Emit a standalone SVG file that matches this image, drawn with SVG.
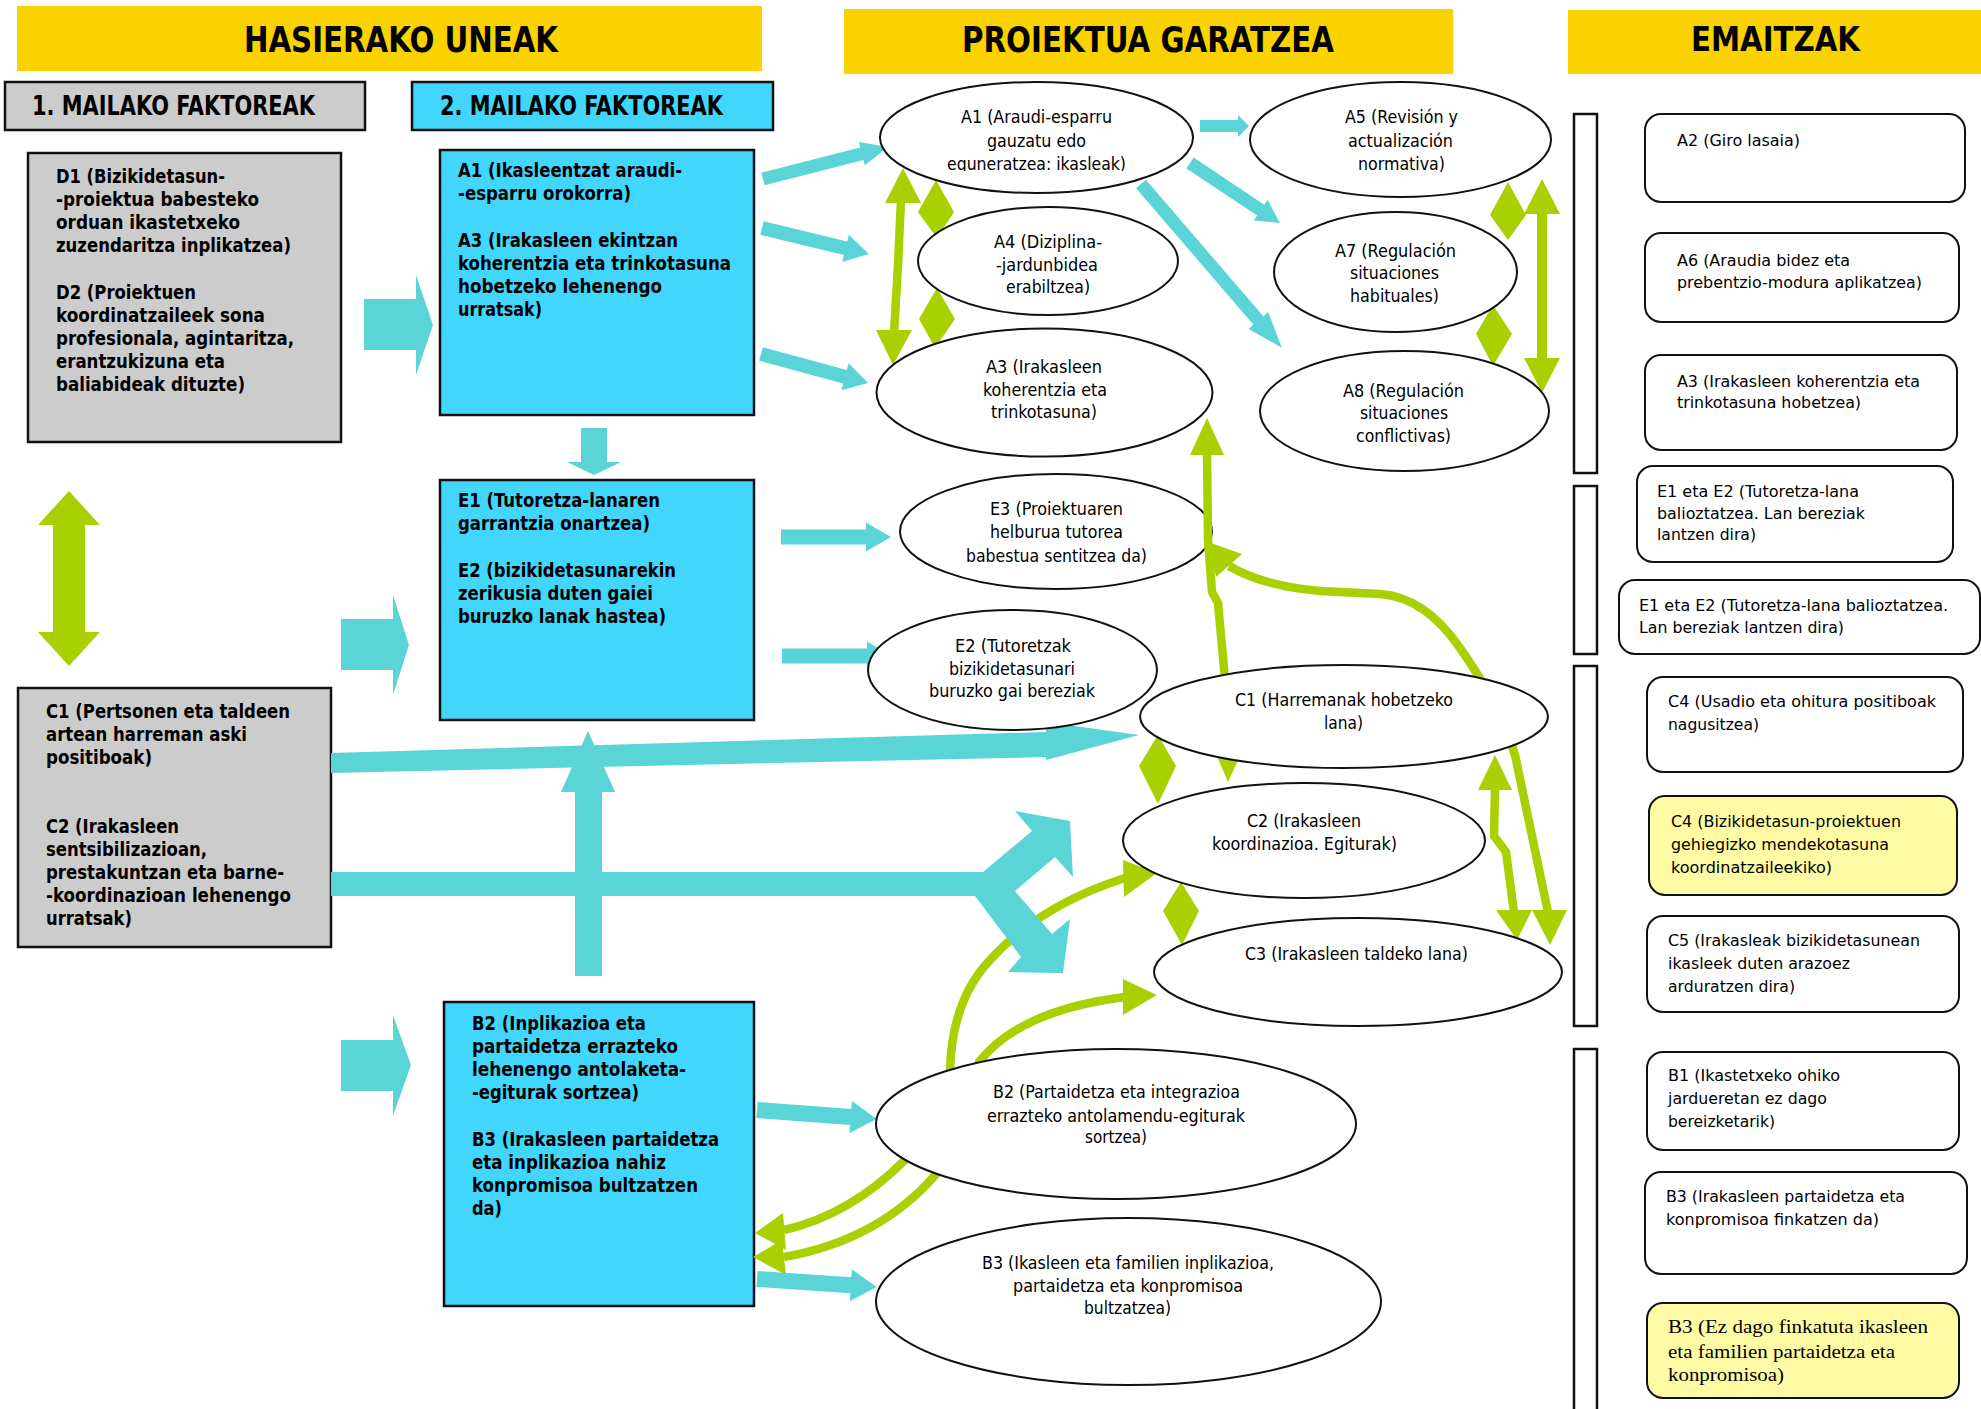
<svg xmlns="http://www.w3.org/2000/svg" width="1981" height="1409" viewBox="0 0 1981 1409">
<defs>
<style>
  .bar { fill: #F9D200; }
  .grey { fill: #CCCCCC; stroke: #111; stroke-width: 2.5; }
  .blue { fill: #42D6FD; stroke: #111; stroke-width: 2.5; }
  .ell { fill: #fff; stroke: #111; stroke-width: 2; }
  .res { fill: #fff; stroke: #111; stroke-width: 2; }
  .resy { fill: #FFFBA4; stroke: #111; stroke-width: 2; }
  .brk { fill: #fff; stroke: #111; stroke-width: 2.5; }
  .cy { fill: #5BD4D7; }
  .gr { fill: #A9D000; }
  .grl { fill: none; stroke: #A9D000; stroke-width: 8.5; stroke-linejoin: round; }
  text { fill: #000; }
  .hd { font-family: "Liberation Sans Narrow", "DejaVu Sans Condensed", sans-serif; font-weight: bold; font-size: 36px; }
  .sh { font-family: "Liberation Sans Narrow", "DejaVu Sans Condensed", sans-serif; font-weight: bold; font-size: 26px; }
  .bx { font-family: "Liberation Sans Narrow", "DejaVu Sans Condensed", sans-serif; font-weight: bold; font-size: 20px; }
  .el { font-family: "Liberation Sans Narrow", "DejaVu Sans Condensed", sans-serif; font-size: 18px; }
  .em { font-family: "DejaVu Sans", sans-serif; font-weight: bold; font-size: 33px; }
  .rt { font-family: "DejaVu Sans", "Liberation Sans", sans-serif; font-size: 16px; }
  .rs { font-family: "Liberation Serif", serif; font-size: 19px; }
</style>
<clipPath id="clipA1"><rect x="870" y="80" width="330" height="91"/></clipPath>
</defs>

<rect width="1981" height="1409" fill="#fff"/>

<!-- column headers -->
<g id="headers">
  <rect class="bar" x="17" y="6" width="745" height="65"/>
  <text class="hd" x="244" y="52" textLength="314" lengthAdjust="spacingAndGlyphs">HASIERAKO UNEAK</text>
  <rect class="bar" x="844" y="9" width="609" height="65"/>
  <text class="hd" x="962" y="52" textLength="372" lengthAdjust="spacingAndGlyphs">PROIEKTUA GARATZEA</text>
  <rect class="bar" x="1568" y="10" width="413" height="64"/>
  <text class="em" x="1691" y="51" textLength="169" lengthAdjust="spacingAndGlyphs">EMAITZAK</text>
</g>

<g id="level1-header">
  <rect class="grey" x="5" y="82" width="360" height="48"/>
  <text class="sh" x="32" y="115" textLength="283" lengthAdjust="spacingAndGlyphs">1. MAILAKO FAKTOREAK</text>
</g>
<g id="level2-header">
  <rect class="blue" x="412" y="82" width="361" height="48"/>
  <text class="sh" x="440" y="115" textLength="283" lengthAdjust="spacingAndGlyphs">2. MAILAKO FAKTOREAK</text>
</g>

<!-- first level factors -->
<g id="node-D">
  <rect class="grey" x="28" y="153" width="313" height="289"/>
  <text class="bx" x="56" y="183" textLength="169" lengthAdjust="spacingAndGlyphs">D1 (Bizikidetasun-</text>
  <text class="bx" x="56" y="206" textLength="203" lengthAdjust="spacingAndGlyphs">-proiektua babesteko</text>
  <text class="bx" x="56" y="229" textLength="184" lengthAdjust="spacingAndGlyphs">orduan ikastetxeko</text>
  <text class="bx" x="56" y="252" textLength="235" lengthAdjust="spacingAndGlyphs">zuzendaritza inplikatzea)</text>
  <text class="bx" x="56" y="299" textLength="140" lengthAdjust="spacingAndGlyphs">D2 (Proiektuen</text>
  <text class="bx" x="56" y="322" textLength="209" lengthAdjust="spacingAndGlyphs">koordinatzaileek sona</text>
  <text class="bx" x="56" y="345" textLength="238" lengthAdjust="spacingAndGlyphs">profesionala, agintaritza,</text>
  <text class="bx" x="56" y="368" textLength="169" lengthAdjust="spacingAndGlyphs">erantzukizuna eta</text>
  <text class="bx" x="56" y="391" textLength="189" lengthAdjust="spacingAndGlyphs">baliabideak dituzte)</text>
</g>

<g id="node-C">
  <rect class="grey" x="18" y="688" width="313" height="259"/>
  <text class="bx" x="46" y="718" textLength="244" lengthAdjust="spacingAndGlyphs">C1 (Pertsonen eta taldeen</text>
  <text class="bx" x="46" y="741" textLength="201" lengthAdjust="spacingAndGlyphs">artean harreman aski</text>
  <text class="bx" x="46" y="764" textLength="106" lengthAdjust="spacingAndGlyphs">positiboak)</text>
  <text class="bx" x="46" y="833" textLength="133" lengthAdjust="spacingAndGlyphs">C2 (Irakasleen</text>
  <text class="bx" x="46" y="856" textLength="161" lengthAdjust="spacingAndGlyphs">sentsibilizazioan,</text>
  <text class="bx" x="46" y="879" textLength="238" lengthAdjust="spacingAndGlyphs">prestakuntzan eta barne-</text>
  <text class="bx" x="46" y="902" textLength="245" lengthAdjust="spacingAndGlyphs">-koordinazioan lehenengo</text>
  <text class="bx" x="46" y="925" textLength="86" lengthAdjust="spacingAndGlyphs">urratsak)</text>
</g>

<!-- second level factors -->
<g id="node-A">
  <rect class="blue" x="440" y="150" width="314" height="265"/>
  <text class="bx" x="458" y="177" textLength="224" lengthAdjust="spacingAndGlyphs">A1 (Ikasleentzat araudi-</text>
  <text class="bx" x="458" y="200" textLength="173" lengthAdjust="spacingAndGlyphs">-esparru orokorra)</text>
  <text class="bx" x="458" y="247" textLength="220" lengthAdjust="spacingAndGlyphs">A3 (Irakasleen ekintzan</text>
  <text class="bx" x="458" y="270" textLength="273" lengthAdjust="spacingAndGlyphs">koherentzia eta trinkotasuna</text>
  <text class="bx" x="458" y="293" textLength="204" lengthAdjust="spacingAndGlyphs">hobetzeko lehenengo</text>
  <text class="bx" x="458" y="316" textLength="84" lengthAdjust="spacingAndGlyphs">urratsak)</text>
</g>

<g id="node-E">
  <rect class="blue" x="440" y="480" width="314" height="240"/>
  <text class="bx" x="458" y="507" textLength="202" lengthAdjust="spacingAndGlyphs">E1 (Tutoretza-lanaren</text>
  <text class="bx" x="458" y="530" textLength="192" lengthAdjust="spacingAndGlyphs">garrantzia onartzea)</text>
  <text class="bx" x="458" y="577" textLength="218" lengthAdjust="spacingAndGlyphs">E2 (bizikidetasunarekin</text>
  <text class="bx" x="458" y="600" textLength="195" lengthAdjust="spacingAndGlyphs">zerikusia duten gaiei</text>
  <text class="bx" x="458" y="623" textLength="208" lengthAdjust="spacingAndGlyphs">buruzko lanak hastea)</text>
</g>

<g id="node-B">
  <rect class="blue" x="444" y="1002" width="310" height="304"/>
  <text class="bx" x="472" y="1030" textLength="174" lengthAdjust="spacingAndGlyphs">B2 (Inplikazioa eta</text>
  <text class="bx" x="472" y="1053" textLength="206" lengthAdjust="spacingAndGlyphs">partaidetza errazteko</text>
  <text class="bx" x="472" y="1076" textLength="214" lengthAdjust="spacingAndGlyphs">lehenengo antolaketa-</text>
  <text class="bx" x="472" y="1099" textLength="167" lengthAdjust="spacingAndGlyphs">-egiturak sortzea)</text>
  <text class="bx" x="472" y="1146" textLength="247" lengthAdjust="spacingAndGlyphs">B3 (Irakasleen partaidetza</text>
  <text class="bx" x="472" y="1169" textLength="194" lengthAdjust="spacingAndGlyphs">eta inplikazioa nahiz</text>
  <text class="bx" x="472" y="1192" textLength="226" lengthAdjust="spacingAndGlyphs">konpromisoa bultzatzen</text>
  <text class="bx" x="472" y="1215" textLength="30" lengthAdjust="spacingAndGlyphs">da)</text>
</g>

<!-- E3 sits beneath the green links that run over its right edge -->
<g id="node-E3">
  <ellipse class="ell" cx="1056" cy="531.5" rx="156" ry="57.5"/>
  <text class="el" x="990" y="515" textLength="133" lengthAdjust="spacingAndGlyphs">E3 (Proiektuaren</text>
  <text class="el" x="990" y="538" textLength="133" lengthAdjust="spacingAndGlyphs">helburua tutorea</text>
  <text class="el" x="966" y="562" textLength="181" lengthAdjust="spacingAndGlyphs">babestua sentitzea da)</text>
</g>

<g id="connectors">
  <!-- green two-way links -->
  <polygon class="gr" points="69,491 100,525 85,525 85,632 100,632 69,666 38,632 53,632 53,525 38,525"/>

  <path class="grl" stroke-width="7" d="M901,200 L898,265 L894,333"/>
  <polygon class="gr" points="903,168 921,203 885,203"/>
  <polygon class="gr" points="893,365 912,330 876,330"/>

  <polygon class="gr" points="936,180 954,212 937,238 918,212"/>
  <polygon class="gr" points="937,288 955,319 935,348 919,319"/>
  <polygon class="gr" points="1508,182 1526,215 1508,240 1490,215"/>
  <polygon class="gr" points="1493,305 1512,334 1493,366 1476,334"/>
  <polygon class="gr" points="1158,735 1176,766 1158,804 1139,766"/>
  <polygon class="gr" points="1181,882 1199,911 1182,945 1163,911"/>

  <polygon class="gr" points="1542,179 1560,214 1547,214 1547,358 1560,358 1542,393 1524,358 1537,358 1537,214 1524,214"/>

  <path class="grl" stroke-width="8" d="M1207,452 L1208,540 L1212,592 L1218,603 L1226,690 L1228,760"/>
  <polygon class="gr" points="1207,418 1224,455 1190,455"/>
  <polygon class="gr" points="1228,782 1217,756 1240,756"/>

  <path class="grl" d="M1229,566 Q1270,590 1340,592 L1380,594 Q1425,597 1460,648 Q1500,705 1515,755 L1548,912"/>
  <polygon class="gr" points="1208,542 1242,554 1216,577"/>
  <polygon class="gr" points="1550,945 1532,910 1567,910"/>

  <path class="grl" stroke-width="8" d="M1495,788 L1494,836 L1506,852 L1514,912"/>
  <polygon class="gr" points="1495,755 1512,790 1478,790"/>
  <polygon class="gr" points="1517,940 1496,910 1532,910"/>

  <path class="grl" d="M784,1230 Q850,1215 905,1160 Q945,1120 950,1070 Q952,1000 990,960 Q1040,905 1125,878"/>
  <polygon class="gr" points="755,1233 783,1213 786,1250"/>
  <polygon class="gr" points="1157,873 1123,860 1124,897"/>

  <path class="grl" d="M784,1257 Q880,1240 937,1173 Q970,1130 979,1062 Q1020,1010 1125,997"/>
  <polygon class="gr" points="753,1257 782,1240 786,1275"/>
  <polygon class="gr" points="1157,995 1123,979 1123,1015"/>

  <!-- cyan flow arrows -->
  <polygon class="cy" points="364,299 416,299 416,275 433,325 416,375 416,350 364,350"/>
  <polygon class="cy" points="341,619 393,619 393,595 409,645 393,695 393,670 341,670"/>
  <polygon class="cy" points="341,1040 393,1040 393,1015 411,1065 393,1116 393,1091 341,1091"/>
  <polygon class="cy" points="581,428 607,428 607,462 621,462 594,475 567,462 581,462"/>
  <polygon class="cy" points="575,976 575,792 561,792 588,731 615,792 602,792 602,976"/>

  <polygon class="cy" points="331,753 1046,732 1046,722 1139,735 1046,760 1046,757 331,773"/>
  <polygon class="cy" points="331,872 983,872 1032,831 1015,811 1070,821 1073,877 1055,857 1015,891 1052,934 1070,919 1063,973 1008,972 1021,957 975,896 331,896"/>

  <polygon class="cy" transform="translate(763,179) rotate(-14.36)" points="0,-6.5 102,-6.5 102,-12 129,0 102,12 102,6.5 0,6.5"/>
  <polygon class="cy" transform="translate(762,228) rotate(13.66)" points="0,-7 86,-7 86,-14 110,0 86,14 86,7 0,7"/>
  <polygon class="cy" transform="translate(761,354) rotate(15.16)" points="0,-7 87,-7 87,-14 111,0 87,14 87,7 0,7"/>
  <polygon class="cy" transform="translate(781,537)" points="0,-7.5 85,-7.5 85,-14.5 110,0 85,14.5 85,7.5 0,7.5"/>
  <polygon class="cy" transform="translate(782,656)" points="0,-7.5 85,-7.5 85,-14.5 110,0 85,14.5 85,7.5 0,7.5"/>
  <polygon class="cy" transform="translate(757,1110) rotate(4.29)" points="0,-8 94,-8 94,-16 120,0 94,16 94,8 0,8"/>
  <polygon class="cy" transform="translate(757,1279) rotate(3.81)" points="0,-8 94,-8 94,-16 120,0 94,16 94,8 0,8"/>
  <polygon class="cy" transform="translate(1200,126)" points="0,-6 38,-6 38,-11 49,0 38,11 38,6 0,6"/>
  <polygon class="cy" transform="translate(1190,163) rotate(33.69)" points="0,-6.5 85,-6.5 85,-12.5 108,0 85,12.5 85,6.5 0,6.5"/>
  <polygon class="cy" transform="translate(1141,184) rotate(49.3)" points="0,-6.5 180,-6.5 180,-13 216,0 180,13 180,6.5 0,6.5"/>
</g>

<!-- project development ellipses -->
<g id="node-A1">
  <ellipse class="ell" cx="1036.5" cy="137.5" rx="156.5" ry="55.5"/>
  <text class="el" x="961" y="123" textLength="151" lengthAdjust="spacingAndGlyphs">A1 (Araudi-esparru</text>
  <text class="el" x="987" y="147" textLength="99" lengthAdjust="spacingAndGlyphs">gauzatu edo</text>
  <text class="el" x="947" y="170" textLength="179" lengthAdjust="spacingAndGlyphs" clip-path="url(#clipA1)">eguneratzea: ikasleak)</text>
</g>
<g id="node-A5">
  <ellipse class="ell" cx="1400.5" cy="139.5" rx="150.5" ry="57.5"/>
  <text class="el" x="1345" y="123" textLength="113" lengthAdjust="spacingAndGlyphs">A5 (Revisión y</text>
  <text class="el" x="1348" y="147" textLength="105" lengthAdjust="spacingAndGlyphs">actualización</text>
  <text class="el" x="1358" y="170" textLength="87" lengthAdjust="spacingAndGlyphs">normativa)</text>
</g>
<g id="node-A4">
  <ellipse class="ell" cx="1048" cy="261" rx="130" ry="54"/>
  <text class="el" x="994" y="248" textLength="108" lengthAdjust="spacingAndGlyphs">A4 (Diziplina-</text>
  <text class="el" x="996" y="271" textLength="102" lengthAdjust="spacingAndGlyphs">-jardunbidea</text>
  <text class="el" x="1006" y="293" textLength="84" lengthAdjust="spacingAndGlyphs">erabiltzea)</text>
</g>
<g id="node-A7">
  <ellipse class="ell" cx="1395.5" cy="272" rx="121.5" ry="60"/>
  <text class="el" x="1335" y="257" textLength="121" lengthAdjust="spacingAndGlyphs">A7 (Regulación</text>
  <text class="el" x="1350" y="279" textLength="89" lengthAdjust="spacingAndGlyphs">situaciones</text>
  <text class="el" x="1350" y="302" textLength="89" lengthAdjust="spacingAndGlyphs">habituales)</text>
</g>
<g id="node-A3">
  <ellipse class="ell" cx="1044.5" cy="392.5" rx="168" ry="64"/>
  <text class="el" x="986" y="373" textLength="116" lengthAdjust="spacingAndGlyphs">A3 (Irakasleen</text>
  <text class="el" x="983" y="396" textLength="124" lengthAdjust="spacingAndGlyphs">koherentzia eta</text>
  <text class="el" x="991" y="418" textLength="106" lengthAdjust="spacingAndGlyphs">trinkotasuna)</text>
</g>
<g id="node-A8">
  <ellipse class="ell" cx="1404.5" cy="411" rx="144.5" ry="60"/>
  <text class="el" x="1343" y="397" textLength="121" lengthAdjust="spacingAndGlyphs">A8 (Regulación</text>
  <text class="el" x="1360" y="419" textLength="88" lengthAdjust="spacingAndGlyphs">situaciones</text>
  <text class="el" x="1356" y="442" textLength="95" lengthAdjust="spacingAndGlyphs">conflictivas)</text>
</g>
<g id="node-E2">
  <ellipse class="ell" cx="1012.5" cy="670" rx="144.5" ry="60"/>
  <text class="el" x="955" y="652" textLength="116" lengthAdjust="spacingAndGlyphs">E2 (Tutoretzak</text>
  <text class="el" x="949" y="675" textLength="126" lengthAdjust="spacingAndGlyphs">bizikidetasunari</text>
  <text class="el" x="929" y="697" textLength="166" lengthAdjust="spacingAndGlyphs">buruzko gai bereziak</text>
</g>
<g id="node-C1">
  <ellipse class="ell" cx="1344" cy="716.5" rx="204" ry="51.5"/>
  <text class="el" x="1235" y="706" textLength="218" lengthAdjust="spacingAndGlyphs">C1 (Harremanak hobetzeko</text>
  <text class="el" x="1324" y="729" textLength="39" lengthAdjust="spacingAndGlyphs">lana)</text>
</g>
<g id="node-C2">
  <ellipse class="ell" cx="1304" cy="840.5" rx="181" ry="57.5"/>
  <text class="el" x="1247" y="827" textLength="114" lengthAdjust="spacingAndGlyphs">C2 (Irakasleen</text>
  <text class="el" x="1212" y="850" textLength="185" lengthAdjust="spacingAndGlyphs">koordinazioa. Egiturak)</text>
</g>
<g id="node-C3">
  <ellipse class="ell" cx="1358" cy="972" rx="204" ry="54"/>
  <text class="el" x="1245" y="960" textLength="223" lengthAdjust="spacingAndGlyphs">C3 (Irakasleen taldeko lana)</text>
</g>
<g id="node-B2">
  <ellipse class="ell" cx="1116" cy="1124" rx="240" ry="75"/>
  <text class="el" x="993" y="1098" textLength="247" lengthAdjust="spacingAndGlyphs">B2 (Partaidetza eta integrazioa</text>
  <text class="el" x="987" y="1122" textLength="258" lengthAdjust="spacingAndGlyphs">errazteko antolamendu-egiturak</text>
  <text class="el" x="1085" y="1143" textLength="62" lengthAdjust="spacingAndGlyphs">sortzea)</text>
</g>
<g id="node-B3">
  <ellipse class="ell" cx="1128.5" cy="1301.5" rx="252.5" ry="83.5"/>
  <text class="el" x="982" y="1269" textLength="292" lengthAdjust="spacingAndGlyphs">B3 (Ikasleen eta familien inplikazioa,</text>
  <text class="el" x="1013" y="1292" textLength="230" lengthAdjust="spacingAndGlyphs">partaidetza eta konpromisoa</text>
  <text class="el" x="1084" y="1314" textLength="87" lengthAdjust="spacingAndGlyphs">bultzatzea)</text>
</g>

<!-- results column: group brackets -->
<g id="brackets">
  <rect class="brk" x="1574" y="114" width="23" height="359"/>
  <rect class="brk" x="1574" y="486" width="23" height="168"/>
  <rect class="brk" x="1574" y="666" width="23" height="360"/>
  <rect class="brk" x="1574" y="1049" width="23" height="380"/>
</g>

<g id="res-A2">
  <rect class="res" x="1645" y="114" width="320" height="88" rx="16"/>
  <text class="rt" x="1677" y="146" textLength="123" lengthAdjust="spacingAndGlyphs">A2 (Giro lasaia)</text>
</g>
<g id="res-A6">
  <rect class="res" x="1645" y="233" width="314" height="89" rx="16"/>
  <text class="rt" x="1677" y="266" textLength="173" lengthAdjust="spacingAndGlyphs">A6 (Araudia bidez eta</text>
  <text class="rt" x="1677" y="288" textLength="245" lengthAdjust="spacingAndGlyphs">prebentzio-modura aplikatzea)</text>
</g>
<g id="res-A3">
  <rect class="res" x="1645" y="355" width="312" height="95" rx="16"/>
  <text class="rt" x="1677" y="387" textLength="243" lengthAdjust="spacingAndGlyphs">A3 (Irakasleen koherentzia eta</text>
  <text class="rt" x="1677" y="408" textLength="184" lengthAdjust="spacingAndGlyphs">trinkotasuna hobetzea)</text>
</g>
<g id="res-E1E2-a">
  <rect class="res" x="1637" y="466" width="316" height="96" rx="16"/>
  <text class="rt" x="1657" y="497" textLength="202" lengthAdjust="spacingAndGlyphs">E1 eta E2 (Tutoretza-lana</text>
  <text class="rt" x="1657" y="519" textLength="208" lengthAdjust="spacingAndGlyphs">balioztatzea. Lan bereziak</text>
  <text class="rt" x="1657" y="540" textLength="99" lengthAdjust="spacingAndGlyphs">lantzen dira)</text>
</g>
<g id="res-E1E2-b">
  <rect class="res" x="1619" y="580" width="361" height="74" rx="16"/>
  <text class="rt" x="1639" y="611" textLength="309" lengthAdjust="spacingAndGlyphs">E1 eta E2 (Tutoretza-lana balioztatzea.</text>
  <text class="rt" x="1639" y="633" textLength="205" lengthAdjust="spacingAndGlyphs">Lan bereziak lantzen dira)</text>
</g>
<g id="res-C4">
  <rect class="res" x="1647" y="677" width="316" height="95" rx="16"/>
  <text class="rt" x="1668" y="707" textLength="268" lengthAdjust="spacingAndGlyphs">C4 (Usadio eta ohitura positiboak</text>
  <text class="rt" x="1668" y="730" textLength="91" lengthAdjust="spacingAndGlyphs">nagusitzea)</text>
</g>
<g id="res-C4-neg">
  <rect class="resy" x="1649" y="796" width="308" height="99" rx="16"/>
  <text class="rt" x="1671" y="827" textLength="230" lengthAdjust="spacingAndGlyphs">C4 (Bizikidetasun-proiektuen</text>
  <text class="rt" x="1671" y="850" textLength="218" lengthAdjust="spacingAndGlyphs">gehiegizko mendekotasuna</text>
  <text class="rt" x="1671" y="873" textLength="161" lengthAdjust="spacingAndGlyphs">koordinatzaileekiko)</text>
</g>
<g id="res-C5">
  <rect class="res" x="1647" y="916" width="312" height="96" rx="16"/>
  <text class="rt" x="1668" y="946" textLength="252" lengthAdjust="spacingAndGlyphs">C5 (Irakasleak bizikidetasunean</text>
  <text class="rt" x="1668" y="969" textLength="182" lengthAdjust="spacingAndGlyphs">ikasleek duten arazoez</text>
  <text class="rt" x="1668" y="992" textLength="127" lengthAdjust="spacingAndGlyphs">arduratzen dira)</text>
</g>
<g id="res-B1">
  <rect class="res" x="1647" y="1052" width="312" height="98" rx="16"/>
  <text class="rt" x="1668" y="1081" textLength="172" lengthAdjust="spacingAndGlyphs">B1 (Ikastetxeko ohiko</text>
  <text class="rt" x="1668" y="1104" textLength="159" lengthAdjust="spacingAndGlyphs">jardueretan ez dago</text>
  <text class="rt" x="1668" y="1127" textLength="107" lengthAdjust="spacingAndGlyphs">bereizketarik)</text>
</g>
<g id="res-B3">
  <rect class="res" x="1645" y="1172" width="322" height="102" rx="16"/>
  <text class="rt" x="1666" y="1202" textLength="239" lengthAdjust="spacingAndGlyphs">B3 (Irakasleen partaidetza eta</text>
  <text class="rt" x="1666" y="1225" textLength="213" lengthAdjust="spacingAndGlyphs">konpromisoa finkatzen da)</text>
</g>
<g id="res-B3-neg">
  <rect class="resy" x="1647" y="1303" width="312" height="95" rx="16"/>
  <text class="rs" x="1668" y="1333" textLength="260" lengthAdjust="spacingAndGlyphs">B3 (Ez dago finkatuta ikasleen</text>
  <text class="rs" x="1668" y="1358" textLength="227" lengthAdjust="spacingAndGlyphs">eta familien partaidetza eta</text>
  <text class="rs" x="1668" y="1381" textLength="116" lengthAdjust="spacingAndGlyphs">konpromisoa)</text>
</g>
</svg>
